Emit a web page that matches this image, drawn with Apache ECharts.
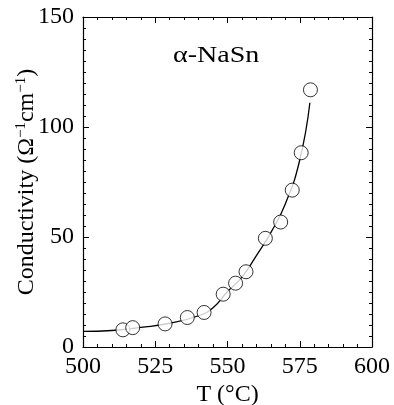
<!DOCTYPE html>
<html>
<head>
<meta charset="utf-8">
<script src="https://cdn.jsdelivr.net/npm/echarts@6/dist/echarts.min.js"></script>
<style>
  html, body { margin: 0; padding: 0; background: #fff; }
  #chart { width: 394px; height: 405px; }
</style>
</head>
<body>
<div id="chart"></div>
<script>
// measured points
const tempPoints = [513.8, 517.2, 528.4, 536.1, 541.9, 548.5, 552.8, 556.4, 563.1, 568.4, 572.4, 575.5, 578.7];
const condPoints = [7.8, 8.8, 10.5, 13.4, 15.7, 24.0, 29.0, 34.2, 49.4, 56.8, 71.3, 88.3, 116.9];

// fitted curve
const tempCurve = [500, 510, 520, 530, 540, 545, 550, 555, 560, 565, 570, 575, 578.5];
const condCurve = [7.1, 7.5, 8.9, 10.8, 14.2, 17.8, 25.2, 31.8, 41.5, 52, 65, 85, 111];

const xTicks = [500, 525, 550, 575, 600];
const yTicks = [0, 50, 100, 150];

const font = '"Liberation Serif", "Times New Roman", serif';

const chart = echarts.init(document.getElementById('chart'));

const baseX = {
    type: 'value',
    min: xTicks[0],
    max: xTicks[xTicks.length - 1],
    interval: 25,
    axisLine: { show: true, onZero: false, lineStyle: { color: '#000', width: 1.2 } },
    axisTick: { show: true, inside: true, length: 6, lineStyle: { color: '#000' } },
    minorTick: { show: true, splitNumber: 5, length: 3, lineStyle: { color: '#000' } },
    splitLine: { show: false }
};
const baseY = {
    type: 'value',
    min: yTicks[0],
    max: yTicks[yTicks.length - 1],
    interval: 50,
    axisLine: { show: true, onZero: false, lineStyle: { color: '#000', width: 1.2 } },
    axisTick: { show: true, inside: true, length: 6, lineStyle: { color: '#000' } },
    minorTick: { show: true, splitNumber: 10, length: 3, lineStyle: { color: '#000' } },
    splitLine: { show: false }
};

chart.setOption({
    animation: false,
    grid: { left: 83, right: 22, top: 17, bottom: 58, outerBoundsMode: 'none', containLabel: false },
    xAxis: [
        Object.assign({}, baseX, {
            position: 'bottom',
            name: 'T (°C)',
            nameLocation: 'middle',
            nameGap: 36,
            nameMoveOverlap: false,
            nameTextStyle: { fontFamily: font, fontSize: 24, color: '#000' },
            axisLabel: { fontFamily: font, fontSize: 24, color: '#000', margin: 8 }
        }),
        Object.assign({}, baseX, { position: 'top', axisLabel: { show: false } })
    ],
    yAxis: [
        Object.assign({}, baseY, {
            position: 'left',
            name: '{a|Conductivity (Ω}{s|−1}{a|cm}{s|−1}{a|)}',
            nameLocation: 'middle',
            nameGap: 43,
            nameMoveOverlap: false,
            nameTextStyle: {
                fontFamily: font, fontSize: 24, color: '#000',
                rich: {
                    a: { fontFamily: font, fontSize: 24, color: '#000' },
                    s: { fontFamily: font, fontSize: 15, color: '#000', padding: [0, 0, 11, 0] }
                }
            },
            axisLabel: { fontFamily: font, fontSize: 24, color: '#000', margin: 9 }
        }),
        Object.assign({}, baseY, { position: 'right', axisLabel: { show: false } })
    ],
    graphic: [{
        type: 'text',
        x: 173,
        y: 44,
        scaleX: 1.22,
        style: { text: 'α-NaSn', fontFamily: font, fontSize: 23, fill: '#000' }
    }],
    series: [
        {
            type: 'line',
            data: tempCurve.map((t, i) => [t, condCurve[i]]),
            smooth: true,
            symbol: 'none',
            lineStyle: { color: '#000', width: 1.3 },
            z: 2
        },
        {
            type: 'scatter',
            data: tempPoints.map((t, i) => [t, condPoints[i]]),
            symbol: 'circle',
            symbolSize: 14,
            itemStyle: { color: '#fff', borderColor: '#000', borderWidth: 1 },
            z: 3
        }
    ]
});
</script>
</body>
</html>
